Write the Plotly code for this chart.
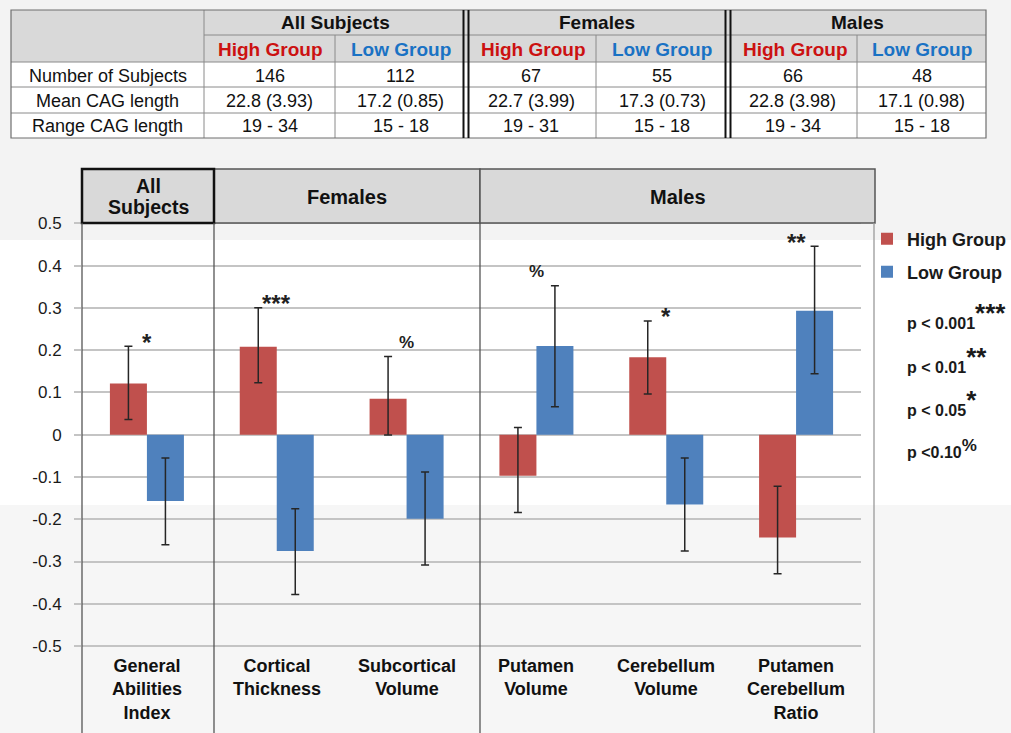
import plotly.graph_objects as go

# ---------------- data ----------------
categories = ["General<br>Abilities<br>Index", "Cortical<br>Thickness", "Subcortical<br>Volume",
              "Putamen<br>Volume", "Cerebellum<br>Volume", "Putamen<br>Cerebellum<br>Ratio"]
high_vals = [0.121, 0.208, 0.085, -0.097, 0.183, -0.243]
high_err_plus = [0.088, 0.092, 0.100, 0.114, 0.086, 0.121]
high_err_minus = [0.085, 0.085, 0.086, 0.087, 0.087, 0.086]
low_vals = [-0.157, -0.275, -0.199, 0.210, -0.165, 0.293]
low_err_plus = [0.102, 0.100, 0.111, 0.142, 0.110, 0.153]
low_err_minus = [0.103, 0.103, 0.109, 0.144, 0.110, 0.149]
sig_labels = ["*", "***", "%", "%", "*", "**"]
y_tickvals = [-0.5, -0.4, -0.3, -0.2, -0.1, 0, 0.1, 0.2, 0.3, 0.4, 0.5]
y_ticktext = ["-0.5", "-0.4", "-0.3", "-0.2", "-0.1", "0", "0.1", "0.2", "0.3", "0.4", "0.5"]
panel_names = ["All Subjects", "Females", "Males"]
series_names = ["High Group", "Low Group"]
p_notes = ["p < 0.001", "p < 0.01", "p < 0.05", "p <0.10"]
p_marks = ["***", "**", "*", "%"]

table_groups = ["All Subjects", "Females", "Males"]
table_subheads = ["High Group", "Low Group"] * 3
table_row_labels = ["Number of Subjects", "Mean CAG length", "Range CAG length"]
table_rows = [
    ["146", "112", "67", "55", "66", "48"],
    ["22.8 (3.93)", "17.2 (0.85)", "22.7 (3.99)", "17.3 (0.73)", "22.8 (3.98)", "17.1 (0.98)"],
    ["19 - 34", "15 - 18", "19 - 31", "15 - 18", "19 - 34", "15 - 18"],
]

# ---------------- layout helpers ----------------
W, H = 1011, 733
FONT = "Liberation Sans, Arial, sans-serif"
RED = "#c0504d"
BLUE = "#4f81bd"


def px(x):
    return x / W


def py(y):
    return 1 - y / H


shapes = []
annotations = []


def rect(x0, y0, x1, y1, fill=None, line=None, lw=1, layer="above"):
    shapes.append(dict(type="rect", xref="paper", yref="paper",
                       x0=px(x0), x1=px(x1), y0=py(y1), y1=py(y0),
                       fillcolor=fill if fill else "rgba(0,0,0,0)",
                       line=dict(color=line if line else "rgba(0,0,0,0)", width=lw if line else 0),
                       layer=layer))


def hline(x0, x1, y, color, lw=1):
    shapes.append(dict(type="line", xref="paper", yref="paper", x0=px(x0), x1=px(x1),
                       y0=py(y), y1=py(y), line=dict(color=color, width=lw), layer="above"))


def vline(x, y0, y1, color, lw=1):
    shapes.append(dict(type="line", xref="paper", yref="paper", x0=px(x), x1=px(x),
                       y0=py(y0), y1=py(y1), line=dict(color=color, width=lw), layer="above"))


def text(x, y, s, size, color="#111111", bold=False, xanchor="center", yanchor="middle", pad=1):
    annotations.append(dict(xref="paper", yref="paper", x=px(x), y=py(y), text=(f"<b>{s}</b>" if bold else s),
                            showarrow=False, xanchor=xanchor, yanchor=yanchor, borderpad=pad,
                            font=dict(family=FONT, size=size, color=color)))


# background bands (scan tint)
rect(0, 0, W, 240, fill="#f3f3f3", layer="below")
rect(0, 505, W, H, fill="#f6f6f6", layer="below")

# ---------------- table ----------------
col_edges = [11, 204, 335, 466, 596, 728, 857, 986]
row_edges = [10, 35, 62, 87, 113, 138]
grid_c = "#8a8a8a"
rect(col_edges[0], row_edges[0], col_edges[-1], row_edges[2], fill="#d9d9d9")
rect(col_edges[0], row_edges[2], col_edges[-1], row_edges[-1], fill="#ffffff")
hline(col_edges[1], col_edges[-1], row_edges[1], grid_c)
for r in row_edges[2:-1]:
    hline(col_edges[0], col_edges[-1], r, grid_c)
vline(col_edges[1], row_edges[0], row_edges[-1], grid_c)
for c in [col_edges[2], col_edges[4], col_edges[6]]:
    vline(c, row_edges[1], row_edges[-1], grid_c)
rect(col_edges[0], row_edges[0], col_edges[-1], row_edges[-1], line="#6f6f6f", lw=1.2)
for c in [col_edges[3], col_edges[5]]:
    vline(c - 2.5, row_edges[0], row_edges[-1], "#111111", 2)
    vline(c + 2.5, row_edges[0], row_edges[-1], "#111111", 2)

for g, name in enumerate(table_groups):
    xc = (col_edges[1 + 2 * g] + col_edges[3 + 2 * g]) / 2
    text(xc, (row_edges[0] + row_edges[1]) / 2, name, 19, bold=True)
for j, s in enumerate(table_subheads):
    xc = (col_edges[1 + j] + col_edges[2 + j]) / 2 + (2 if j % 2 == 0 and j > 0 else 0)
    text(xc, (row_edges[1] + row_edges[2]) / 2 + 1, s, 19,
         color=("#cc1111" if j % 2 == 0 else "#1a72c4"), bold=True)
for i, lab in enumerate(table_row_labels):
    yc = (row_edges[2 + i] + row_edges[3 + i]) / 2 + 1
    text((col_edges[0] + col_edges[1]) / 2, yc, lab, 18)
    for j, v in enumerate(table_rows[i]):
        xc = (col_edges[1 + j] + col_edges[2 + j]) / 2
        text(xc, yc, v, 18)

# ---------------- chart frame ----------------
PLOT_L, PLOT_R, RIGHT_BORDER = 82, 861, 875
HEAD_T, HEAD_B = 169, 223
DIV1, DIV2 = 214, 480
frame_c = "#555555"
rect(DIV1, HEAD_T, DIV2, HEAD_B, fill="#d9d9d9", line=frame_c, lw=1.5)
rect(DIV2, HEAD_T, RIGHT_BORDER, HEAD_B, fill="#d9d9d9", line=frame_c, lw=1.5)
rect(PLOT_L, HEAD_T, DIV1, HEAD_B, fill="#d9d9d9", line="#111111", lw=2.5)
vline(PLOT_L, HEAD_B, H, frame_c, 1.3)
vline(DIV1, HEAD_B, H, frame_c, 1.3)
vline(DIV2, HEAD_B, H, frame_c, 1.3)
vline(RIGHT_BORDER - 1, HEAD_B, H, "#9a9a9a", 1.3)

text((PLOT_L + DIV1) / 2, 185.5, "All", 19.5, bold=True, pad=0)
text((PLOT_L + DIV1) / 2, 206.5, "Subjects", 19.5, bold=True, pad=0)
text((DIV1 + DIV2) / 2, 197, panel_names[1], 20, bold=True)
text((DIV2 + RIGHT_BORDER) / 2, 197, panel_names[2], 20, bold=True)

# p-value notes
for k, (note, mark) in enumerate(zip(p_notes, p_marks)):
    ycen = [315, 359, 402, 448][k]
    size = 17 if mark == "%" else 26
    annotations.append(dict(xref="paper", yref="paper", x=px(905), y=py(ycen),
                            text=f"<b>{note}<sup><span style='font-size:{size}px'>{mark}</span></sup></b>",
                            showarrow=False, xanchor="left", yanchor="middle",
                            font=dict(family=FONT, size=16, color="#1a1a1a")))

# category labels (below the -0.5 line)
for cat in categories:
    annotations.append(dict(xref="x", yref="paper", x=cat, y=py(654), text=f"<b>{cat}</b>",
                            showarrow=False, xanchor="center", yanchor="top",
                            font=dict(family=FONT, size=18, color="#111111")))

# significance marks
for cat, lab, hv, hp, lv, lp in zip(categories, sig_labels, high_vals, high_err_plus, low_vals, low_err_plus):
    top = max(hv + hp, lv + lp)
    annotations.append(dict(xref="x", yref="y", x=cat, y=top, text=f"<b>{lab}</b>",
                            showarrow=False, xanchor="center", yanchor="middle",
                            yshift=(14 if lab == "%" else 4),
                            font=dict(family=FONT, size=(17 if lab == "%" else 24), color="#222222")))

# ---------------- figure ----------------
fig = go.Figure()
fig.add_trace(go.Bar(x=categories, y=high_vals, name=f"<b>{series_names[0]}</b>",
                     marker=dict(color=RED, line=dict(width=0)),
                     error_y=dict(type="data", array=high_err_plus, arrayminus=high_err_minus,
                                  color="#262626", thickness=1.5, width=4),
                     legend="legend", showlegend=True))
fig.add_trace(go.Bar(x=categories, y=low_vals, name=f"<b>{series_names[1]}</b>",
                     marker=dict(color=BLUE, line=dict(width=0)),
                     error_y=dict(type="data", array=low_err_plus, arrayminus=low_err_minus,
                                  color="#262626", thickness=1.5, width=4),
                     legend="legend2", showlegend=True))

y_lo = -(H - 434.7) / 422.8
y_hi = (434.7 - HEAD_T) / 422.8

legend_common = dict(xref="container", yref="container", xanchor="left", yanchor="middle",
                     bgcolor="rgba(0,0,0,0)", borderwidth=0,
                     font=dict(family=FONT, size=18, color="#1a1a1a"), visible=True)

fig.update_layout(
    width=W, height=H,
    autosize=False,
    margin=dict(l=0, r=0, t=0, b=0, autoexpand=False),
    paper_bgcolor="#ffffff",
    plot_bgcolor="rgba(0,0,0,0)",
    showlegend=True,
    barmode="group", bargap=0.43, bargroupgap=0,
    xaxis=dict(domain=[px(PLOT_L), px(PLOT_R)], type="category", range=[-0.5, 5.5],
               showgrid=False, showticklabels=False, showline=False, zeroline=False, ticks=""),
    yaxis=dict(domain=[0, py(HEAD_T)], range=[y_lo, y_hi], tickvals=y_tickvals, ticktext=y_ticktext,
               showgrid=True, gridcolor="#c4c4c4", gridwidth=1.5, zeroline=False, showline=False,
               ticks="outside", ticklen=7, tickcolor="#c4c4c4", tickwidth=1.5, ticklabelstandoff=9,
               tickfont=dict(family=FONT, size=17, color="#1a1a1a"), tickprefix="<b>", ticksuffix="</b>"),
    legend=dict(x=px(867), y=py(239), **legend_common),
    legend2=dict(x=px(867), y=py(272), **legend_common),
    shapes=shapes,
    annotations=annotations,
)

fig.write_html("out.html", config={"displayModeBar": False},
               post_script="document.body.style.margin='0';document.body.style.padding='0';"
                           "document.body.style.overflow='hidden';")
